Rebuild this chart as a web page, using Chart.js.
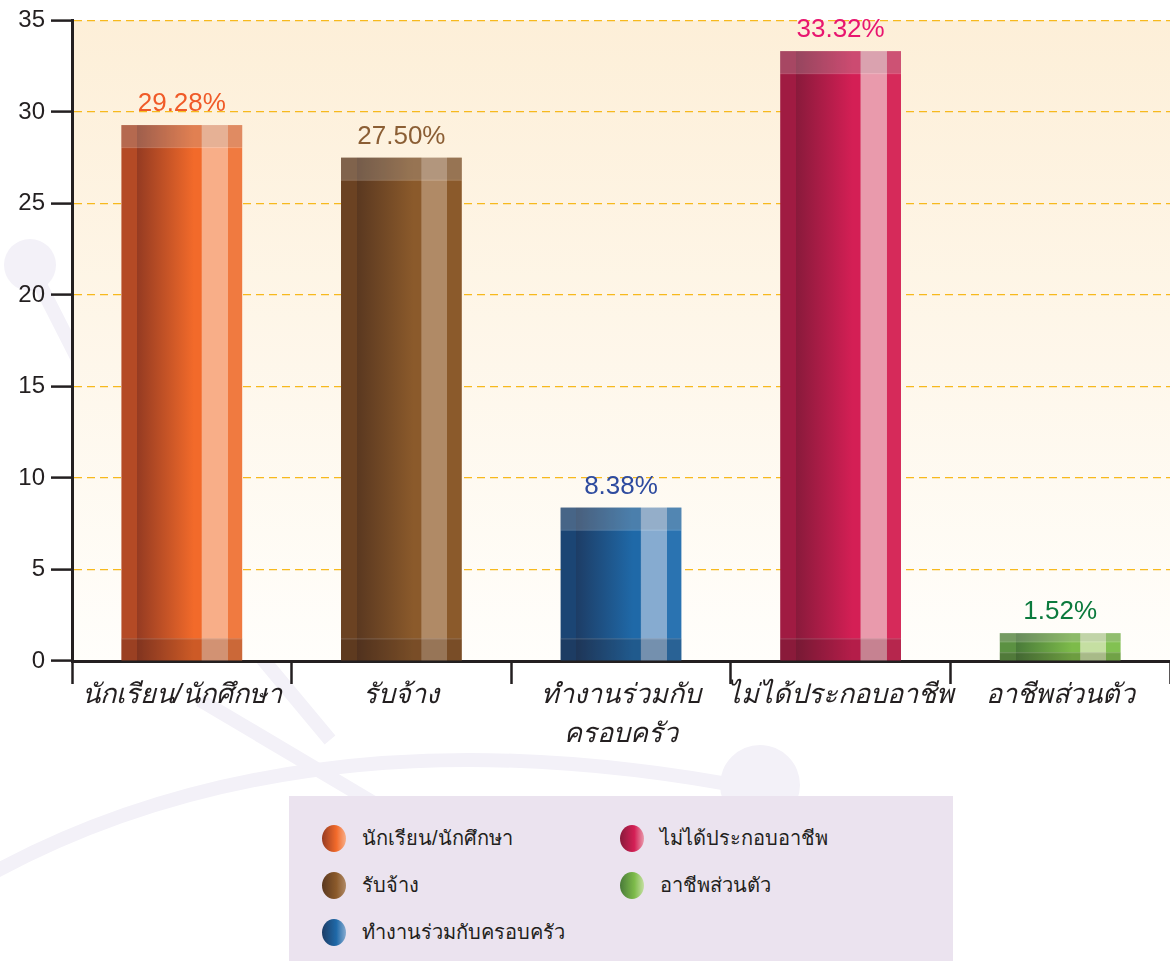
<!DOCTYPE html>
<html>
<head>
<meta charset="utf-8">
<script src="https://cdn.jsdelivr.net/npm/chart.js@4.4.0/dist/chart.umd.min.js"></script>
<style>
  html, body { margin: 0; padding: 0; background: #ffffff; }
  #wrap { position: relative; width: 1170px; height: 961px; overflow: hidden; }
  #deco { position: absolute; left: 0; top: 0; }
  #chart { position: absolute; left: 0; top: 0; }
  #legend {
    position: absolute; left: 289px; top: 796px; width: 664px; height: 165px;
    background: #ebe3ef; font-family: "Liberation Sans", "Noto Sans", sans-serif;
  }
  .item { position: absolute; display: flex; align-items: center; font-size: 20px; color: #231f20; }
  .dot { width: 24px; height: 27px; border-radius: 50%; margin-right: 16px; }
</style>
</head>
<body>
<div id="wrap">
  <svg id="deco" width="1170" height="961">
    <g stroke="#f3f1f8" stroke-width="14" fill="none">
      <path d="M-20 880 Q 300 700 760 790"/>
      <path d="M30 265 L 180 560 L 330 740"/>
      <path d="M200 700 L 470 860"/>
    </g>
    <g fill="#f3f1f8">
      <circle cx="30" cy="265" r="26"/>
      <circle cx="760" cy="785" r="40"/>
    </g>
  </svg>
  <canvas id="chart" width="1170" height="961"></canvas>
  <div id="legend"></div>
</div>
<script>
// ข้อมูลอาชีพ (%)
const categories = ['นักเรียน/นักศึกษา', 'รับจ้าง', 'ทำงานร่วมกับครอบครัว', 'ไม่ได้ประกอบอาชีพ', 'อาชีพส่วนตัว'];
const tickLabels = ['นักเรียน/นักศึกษา', 'รับจ้าง', ['ทำงานร่วมกับ', 'ครอบครัว'], 'ไม่ได้ประกอบอาชีพ', 'อาชีพส่วนตัว'];
const values = [29.28, 27.50, 8.38, 33.32, 1.52];
const valueLabels = ['29.28%', '27.50%', '8.38%', '33.32%', '1.52%'];
const yTicks = [0, 5, 10, 15, 20, 25, 30, 35];

// สีของแท่ง: [ขอบซ้าย, เข้ม, สด, ไฮไลต์, ขอบขวา]
const barShades = [
  ['#b44a25', '#953b22', '#f26a2a', '#f8ae88', '#f07a40'],
  ['#6b4222', '#5a3820', '#8b5a2b', '#b08a66', '#8b5a2b'],
  ['#1b4574', '#1d3d66', '#1f69a8', '#86abd0', '#2a73b1'],
  ['#a01b42', '#891a3b', '#d41f55', '#e99aac', '#d62a5a'],
  ['#5b9142', '#497a39', '#7dbb4a', '#c5dfa2', '#82c152']
];
const labelColors = ['#f05a28', '#8b5e34', '#2e4b9f', '#e8156f', '#0b7a3d'];
const legendOrder = [0, 3, 1, 4, 2];

// พื้นหลังพื้นที่กราฟ
const bgPlugin = {
  id: 'bgPlugin',
  beforeDraw(chart) {
    const { ctx, chartArea: a } = chart;
    const g = ctx.createLinearGradient(0, a.top, 0, a.bottom);
    g.addColorStop(0, '#fdefd8');
    g.addColorStop(1, '#fffefb');
    ctx.save();
    ctx.fillStyle = g;
    ctx.fillRect(a.left, a.top, a.right - a.left, a.bottom - a.top);
    ctx.restore();
  }
};

// แท่งทรงกระบอก + ตัวเลข
const barPlugin = {
  id: 'barPlugin',
  afterDatasetsDraw(chart) {
    const ctx = chart.ctx;
    const meta = chart.getDatasetMeta(0);
    meta.data.forEach((bar, i) => {
      const left = bar.x - bar.width / 2;
      const w = bar.width;
      const top = bar.y;
      const h = bar.base - bar.y;
      const s = barShades[i];
      const g = ctx.createLinearGradient(left, 0, left + w, 0);
      g.addColorStop(0, s[0]);
      g.addColorStop(0.13, s[0]);
      g.addColorStop(0.131, s[1]);
      g.addColorStop(0.6, s[2]);
      g.addColorStop(0.66, s[2]);
      g.addColorStop(0.67, s[3]);
      g.addColorStop(0.88, s[3]);
      g.addColorStop(0.881, s[4]);
      g.addColorStop(1, s[4]);
      ctx.save();
      ctx.fillStyle = g;
      ctx.fillRect(left, top, w, h);
      const cap = Math.min(22, h * 0.3);
      ctx.fillStyle = 'rgba(255,255,255,0.16)';
      ctx.fillRect(left, top, w, cap);
      ctx.fillStyle = 'rgba(120,120,120,0.15)';
      ctx.fillRect(left, top, w, cap);
      ctx.fillStyle = 'rgba(255,255,255,0.25)';
      ctx.fillRect(left, top + cap, w, 1);
      ctx.fillStyle = 'rgba(40,20,20,0.18)';
      ctx.fillRect(left, bar.base - cap, w, cap);
      ctx.fillStyle = 'rgba(255,255,255,0.2)';
      ctx.fillRect(left, bar.base - cap, w, 1);
      ctx.font = '26px "Liberation Sans", sans-serif';
      ctx.fillStyle = labelColors[i];
      ctx.textAlign = 'center';
      ctx.textBaseline = 'alphabetic';
      ctx.fillText(valueLabels[i], bar.x, top - 14);
      ctx.restore();
    });
  }
};

const ctx = document.getElementById('chart').getContext('2d');
new Chart(ctx, {
  type: 'bar',
  data: {
    labels: tickLabels,
    datasets: [{
      data: values,
      backgroundColor: 'rgba(0,0,0,0)',
      borderWidth: 0,
      barPercentage: 0.55,
      categoryPercentage: 1
    }]
  },
  options: {
    responsive: false,
    devicePixelRatio: 1,
    animation: false,
    layout: { padding: { top: 18, right: 0, bottom: 0, left: 0 } },
    plugins: { legend: { display: false }, tooltip: { enabled: false } },
    scales: {
      x: {
        grid: {
          offset: true,
          drawOnChartArea: false,
          drawTicks: true,
          tickLength: 23,
          tickColor: '#231f20',
          tickWidth: 2.5
        },
        border: { color: '#231f20', width: 3 },
        ticks: {
          color: '#231f20',
          padding: -8,
          maxRotation: 0,
          minRotation: 0,
          autoSkip: false,
          font: { family: '"Liberation Sans", sans-serif', size: 27, style: 'italic', lineHeight: 1.45 }
        },
        afterFit(scale) { scale.height = 300; scale.paddingLeft = 0; scale.paddingRight = 0; }
      },
      y: {
        min: 0,
        max: 35,
        afterBuildTicks(scale) { scale.ticks = yTicks.map(v => ({ value: v })); },
        grid: {
          color: '#f7b91d',
          lineWidth: 1.2,
          tickColor: '#231f20',
          tickWidth: 2.5,
          tickLength: 21,
          tickBorderDash: []
        },
        border: { color: '#231f20', width: 3, dash: [8, 5] },
        ticks: {
          color: '#231f20',
          padding: 6,
          font: { family: '"Liberation Sans", sans-serif', size: 24 }
        },
        afterFit(scale) { scale.width = 72; }
      }
    }
  },
  plugins: [bgPlugin, barPlugin]
});

// คำอธิบายสัญลักษณ์
const legend = document.getElementById('legend');
legendOrder.forEach((idx, k) => {
  const col = k % 2;
  const row = Math.floor(k / 2);
  const s = barShades[idx];
  const el = document.createElement('div');
  el.className = 'item';
  el.style.left = (col === 0 ? 33 : 331) + 'px';
  el.style.top = (26 + row * 47) + 'px';
  el.innerHTML = `<span class="dot" style="background: linear-gradient(to right, ${s[1]}, ${s[2]} 60%, ${s[3]})"></span><span>${categories[idx]}</span>`;
  legend.appendChild(el);
});
</script>
</body>
</html>
